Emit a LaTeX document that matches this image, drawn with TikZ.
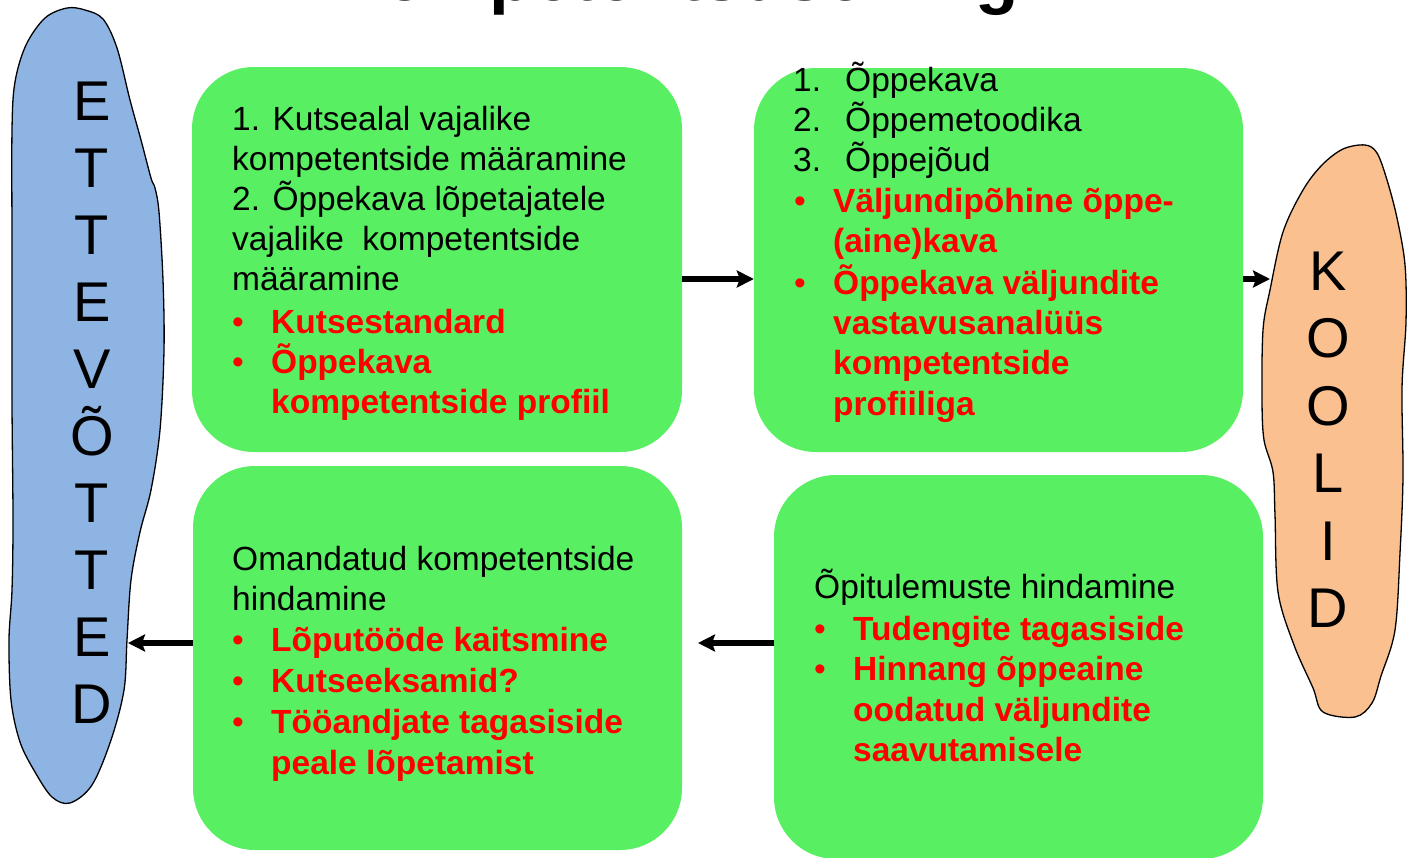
\documentclass[tikz,border=0pt]{standalone}
\usepackage{fontspec}
\setmainfont{Liberation Sans}
\usetikzlibrary{arrows.meta}
\definecolor{boxgreen}{RGB}{89,239,98}
\definecolor{blobblue}{RGB}{142,180,227}
\definecolor{bloborange}{RGB}{250,192,144}
\definecolor{txtred}{RGB}{255,0,0}
\newcommand{\rb}[1]{\makebox[39pt][l]{\textcolor{txtred}{\textbullet}}{\color{txtred}\bfseries #1}}
\newcommand{\ri}[1]{\hspace*{39pt}{\color{txtred}\bfseries #1}}
\newcommand{\rbb}[1]{\hspace*{10pt}\makebox[39pt][l]{\textcolor{txtred}{\textbullet}}{\color{txtred}\bfseries #1}}
\newcommand{\rib}[1]{\hspace*{49pt}{\color{txtred}\bfseries #1}}
\newcommand{\numit}[1]{\hspace*{9pt}\makebox[52pt][l]{#1}}
\tikzset{
  gbox/.style={fill=boxgreen, draw=none, rounded corners=62pt, inner sep=0pt,
    minimum width=489pt, minimum height=384pt},
  blob/.style={draw=black, line width=1.3pt},
  arr/.style={line width=5.5pt, -{Stealth[length=17pt,width=17pt,inset=3pt]}},
  txt/.style={anchor=base west, inner sep=0pt}
}
\begin{document}
\begin{tikzpicture}[x=1pt,y=-1pt]
\useasboundingbox (0,0) rectangle (1408,857);
\clip (0,0) rectangle (1408,857);
\fill[white] (0,0) rectangle (1408,857);

% title (only its lowest part is visible)
\node[anchor=base west, inner sep=0pt, font=\fontsize{71}{80}\selectfont\bfseries] (title) at (332,0) {Kompetentsuse ring};

% blue blob (ETTEVÕTTED)
\draw[blob, fill=blobblue] plot[smooth cycle, tension=0.55] coordinates {
 (67,8) (85,10) (103,19) (117,48) (130,100) (141,140) (151,178) (155,188) (159,212)
 (163,280) (164,350) (160,430) (151,490) (140,532) (131,580) (127,640) (124,690)
 (111,740) (92,785) (70,803) (52,797) (35,772) (20,742) (11,700) (9,640) (12,590)
 (13,520) (12,400) (12,250) (12,130) (15,82) (26,45) (45,18)};
% orange blob (KOOLID)
\draw[blob, fill=bloborange] plot[smooth cycle, tension=0.55] coordinates {
 (1365,145) (1377,153) (1387,180) (1397,218) (1405,265) (1406,322) (1402,388)
 (1403,476) (1400,553) (1395,630) (1381,676) (1372,703) (1355,717) (1323,712)
 (1313,688) (1294,645) (1278,592) (1275,515) (1273,472) (1264,440) (1262,400)
 (1263,330) (1270,290) (1283,232) (1303,190) (1322,165) (1343,149)};

% green boxes
\node[gbox, minimum width=490pt, minimum height=385pt] (b1) at (437,259.5) {};
\node[gbox] (b2) at (998.5,260) {};
\node[gbox] (b3) at (437.5,658) {};
\node[gbox] (b4) at (1018.5,667) {};

% arrows
\coordinate (yrow1) at (0,279);
\coordinate (yrow2) at (0,643);
\coordinate (kIn) at (1270,279);
\coordinate (b3tip) at (698,643);
\coordinate (eIn) at (128,643);
\draw[arr] (b1.east |- yrow1) -- (b2.west |- yrow1);
\draw[arr] (b2.east |- yrow1) -- (kIn);
\draw[arr] (b4.west |- yrow2) -- (b3tip);
\draw[arr] (b3.west |- yrow2) -- (eIn);

% blob letters
\node[anchor=base, inner sep=0pt] (ett) at (92,120) {\begin{minipage}[t]{70pt}\fontsize{56}{67}\selectfont\centering
E\\T\\T\\E\\V\\Õ\\T\\T\\E\\D\end{minipage}};
\node[anchor=base, inner sep=0pt] (kool) at (1328,290) {\begin{minipage}[t]{70pt}\fontsize{56}{67.5}\selectfont\centering
K\\O\\O\\L\\I\\D\end{minipage}};

% box texts
\node[txt] (t1) at (232,130) {\begin{minipage}[t]{440pt}\fontsize{33.5}{40}\selectfont
1. Kutsealal vajalike\\
kompetentside määramine\\
2. Õppekava lõpetajatele\\
vajalike\ \ kompetentside\\
määramine\\[3pt]
\rb{Kutsestandard}\\
\rb{Õppekava}\\
\ri{kompetentside profiil}\end{minipage}};

\node[txt] (t2) at (784,91) {\begin{minipage}[t]{450pt}\fontsize{33.5}{40}\selectfont
\numit{1.}Õppekava\\
\numit{2.}Õppemetoodika\\
\numit{3.}Õppejõud\\[1pt]
\rbb{Väljundipõhine õppe-}\\
\rib{(aine)kava}\\[2pt]
\rbb{Õppekava väljundite}\\
\rib{vastavusanalüüs}\\[0.5pt]
\rib{kompetentside}\\[0.5pt]
\rib{profiiliga}\end{minipage}};

\node[txt] (t3) at (232,570) {\begin{minipage}[t]{440pt}\fontsize{33.5}{40}\selectfont
Omandatud kompetentside\\
hindamine\\[1pt]
\rb{Lõputööde kaitsmine}\\[1pt]
\rb{Kutseeksamid?}\\[1pt]
\rb{Tööandjate tagasiside}\\[1pt]
\ri{peale lõpetamist}\end{minipage}};

\node[txt] (t4) at (814,598) {\begin{minipage}[t]{440pt}\fontsize{33.5}{40}\selectfont
Õpitulemuste hindamine\\[2pt]
\rb{Tudengite tagasiside}\\
\rb{Hinnang õppeaine}\\[1pt]
\ri{oodatud väljundite}\\
\ri{saavutamisele}\end{minipage}};
\end{tikzpicture}
\end{document}
